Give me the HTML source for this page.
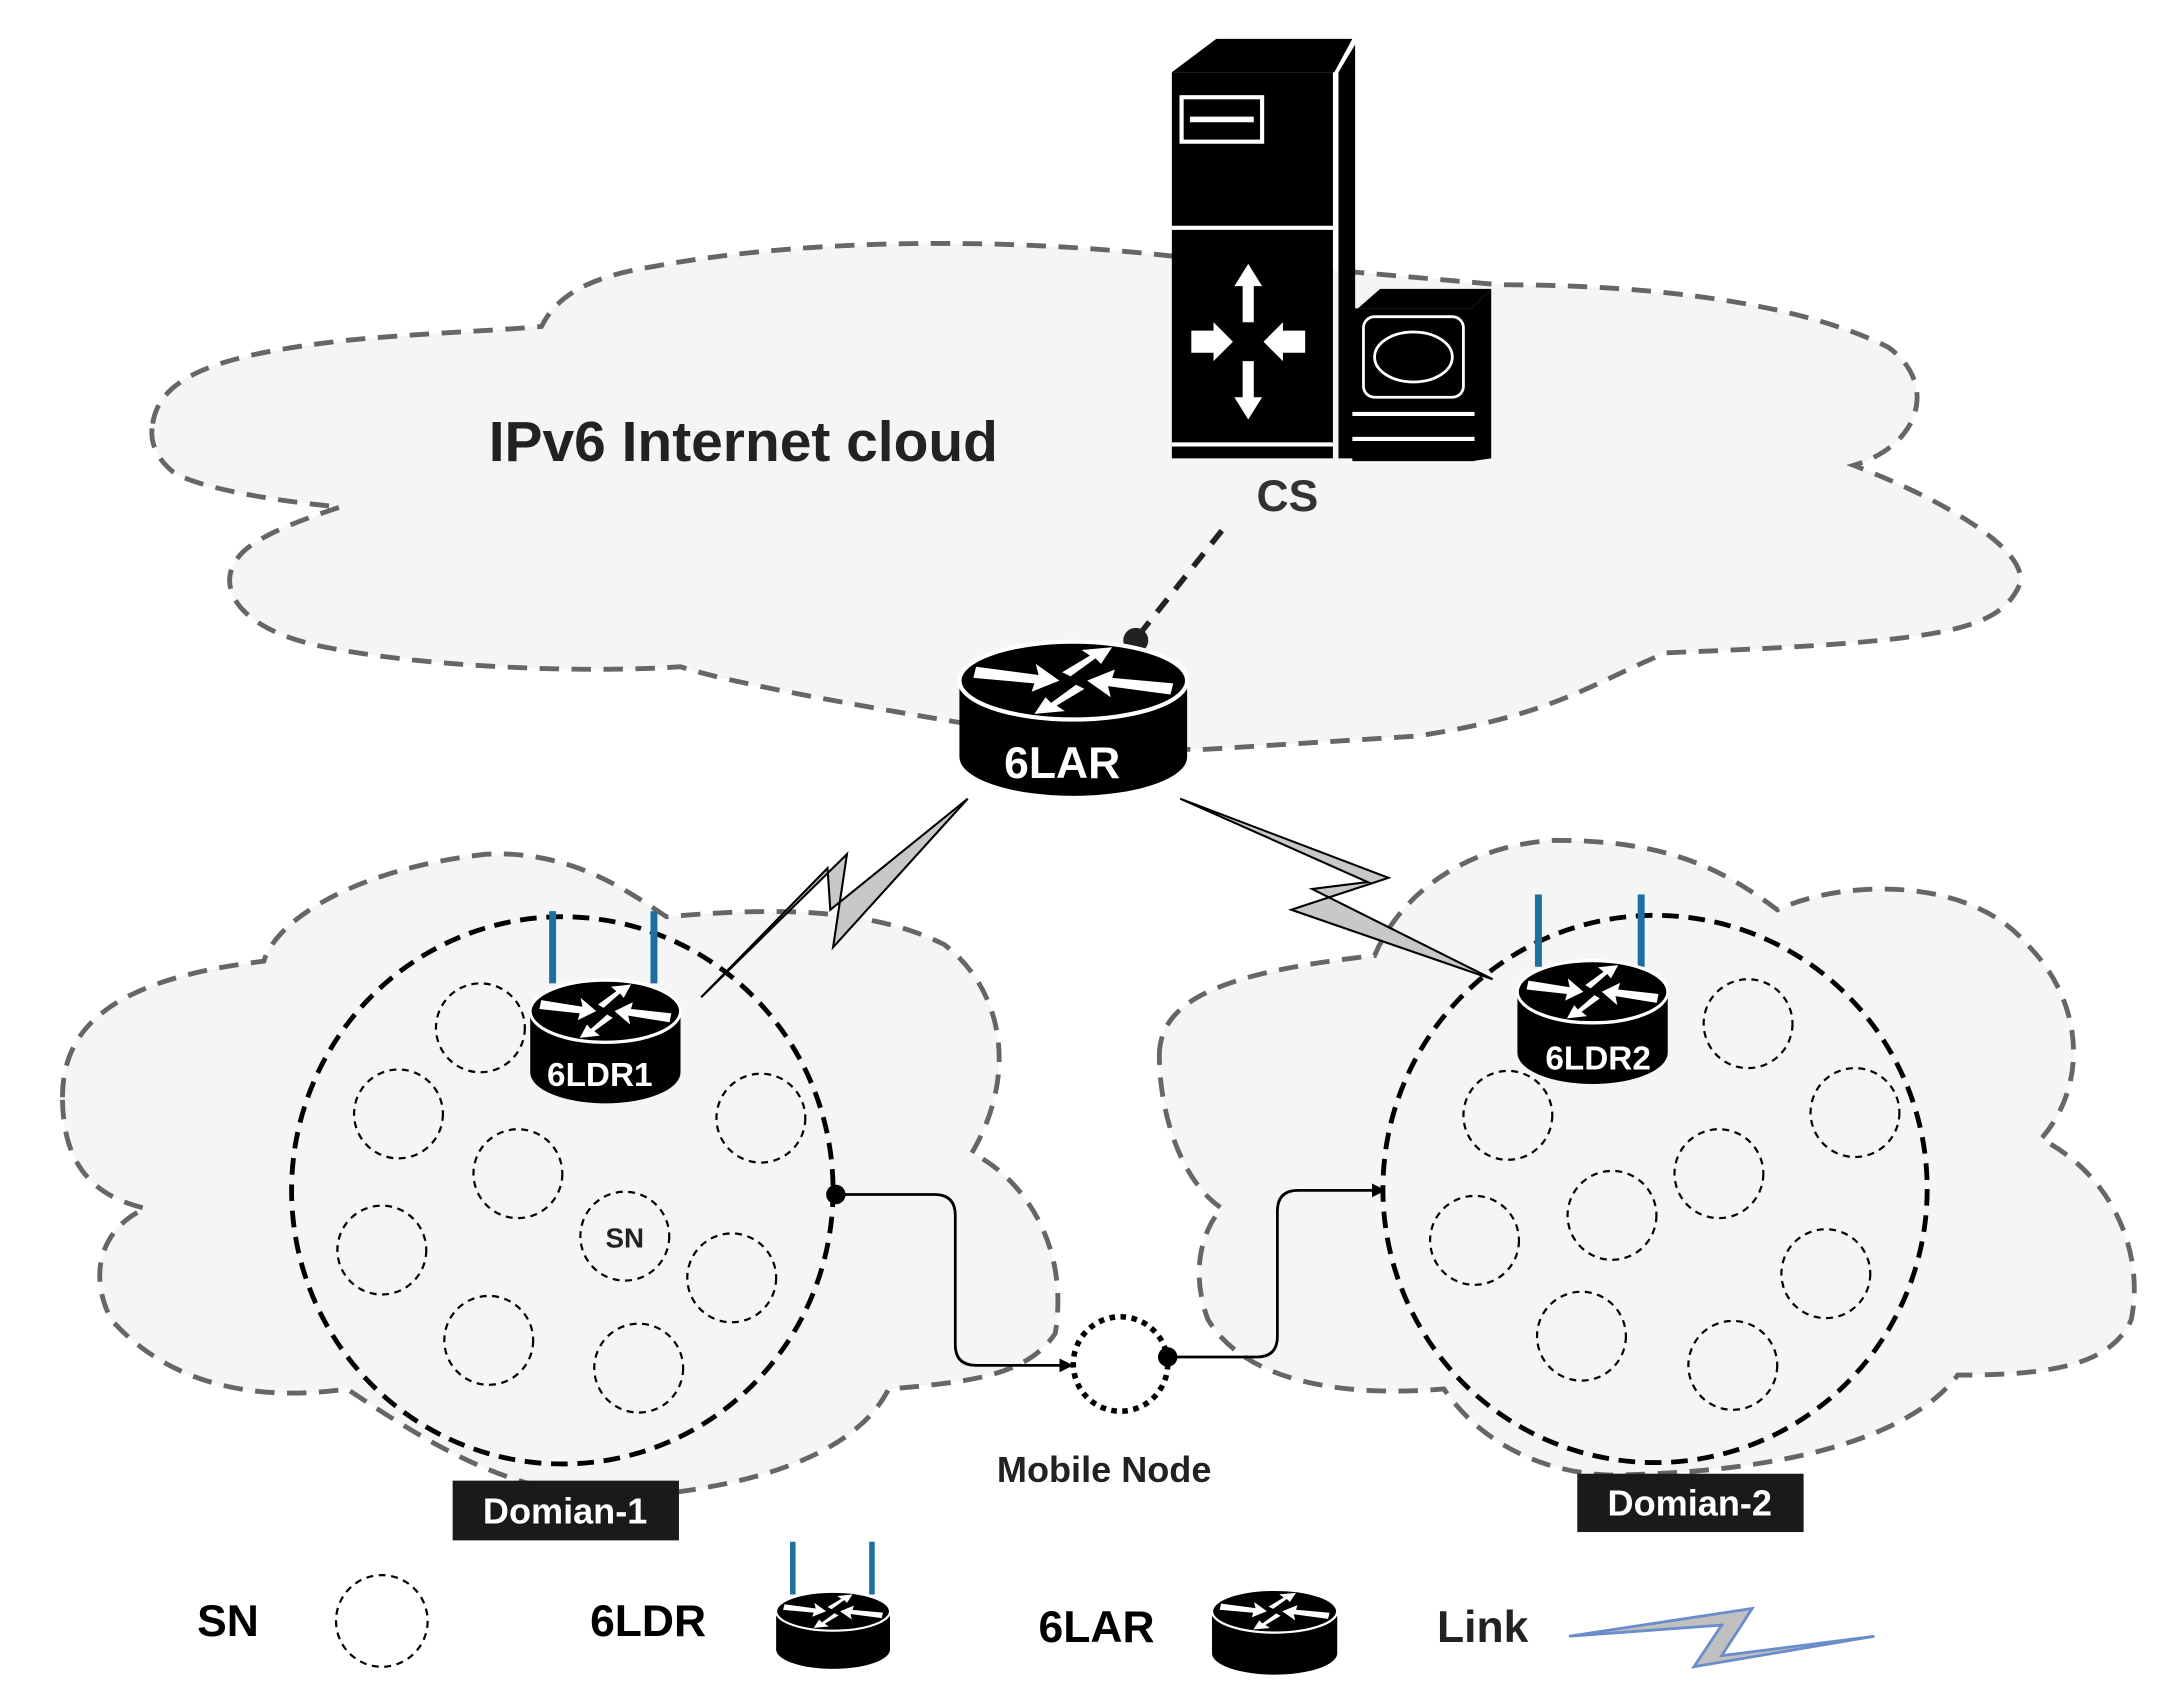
<!DOCTYPE html>
<html><head><meta charset="utf-8"><style>
html,body{margin:0;padding:0;background:#fff}
svg{display:block}
text{font-family:"Liberation Sans",sans-serif;font-weight:bold}
</style></head><body>
<svg width="2166" height="1689" viewBox="0 0 1560 1216" preserveAspectRatio="none" xmlns="http://www.w3.org/2000/svg">
<defs>
<g id="rt">
<rect x="-82" y="0" width="164" height="55" fill="#000"/>
<ellipse cx="0" cy="55" rx="82" ry="28" fill="#000"/>
<ellipse cx="0" cy="0" rx="82" ry="28" fill="#000" stroke="#fff" stroke-width="3"/>
<polygon points="-70,-10 -25,-4 -27,-12 -10,0 -30,8 -28,2 -72,-2" fill="#fff"/>
<polygon points="70,10 25,4 27,12 10,0 30,-8 28,-2 72,2" fill="#fff"/>
<polygon points="-8,-6 12,-18 6,-22 28,-24 20,-12 16,-16 -2,-3" fill="#fff"/>
<polygon points="8,6 -12,18 -6,22 -28,24 -20,12 -16,16 2,3" fill="#fff"/>
</g>
<marker id="ah" markerWidth="10" markerHeight="10" refX="9" refY="5" orient="auto" markerUnits="userSpaceOnUse"><path d="M0,0 L10,5 L0,10 Z" fill="#000"/></marker>
</defs>
<path d="M110,305 C115,270 160,255 250,245 C300,240 360,238 390,235 C400,215 420,200 470,192 C560,175 700,168 850,185 L1080,205 C1200,205 1300,220 1360,250 C1395,275 1385,320 1335,335 C1400,360 1460,395 1455,420 C1440,455 1400,462 1200,470 C1150,490 1120,515 1020,530 L860,540 L690,520 C600,505 520,490 490,480 C420,485 300,480 230,465 C160,450 150,410 185,390 C200,380 230,370 245,365 C190,360 140,350 125,340 C110,328 108,315 110,305 Z" fill="#f4f6f5" stroke="#666" stroke-width="3.5" stroke-dasharray="14,9"/>
<path d="M45,790 C45,740 80,705 190,692 C200,660 260,625 350,615 C410,612 450,640 480,660 C540,655 620,650 680,680 C720,710 735,770 700,830 C740,850 770,900 760,960 C740,990 700,995 640,1000 C620,1040 560,1070 450,1078 C370,1078 310,1040 250,1000 C180,1010 120,995 80,950 C60,910 80,880 105,870 C60,860 45,830 45,790 Z" fill="#f4f6f5" stroke="#666" stroke-width="3.5" stroke-dasharray="14,9"/>
<path d="M835,760 C835,720 880,700 990,688 C1010,640 1060,608 1120,605 C1200,605 1240,625 1280,655 C1330,632 1420,632 1460,680 C1500,720 1505,780 1470,820 C1520,845 1545,900 1535,950 C1520,985 1470,990 1410,990 C1380,1030 1300,1060 1160,1062 C1100,1060 1060,1030 1040,1000 C980,1005 900,1000 870,950 C855,910 870,880 880,870 C850,850 835,800 835,760 Z" fill="#f4f6f5" stroke="#666" stroke-width="3.5" stroke-dasharray="14,9"/>
<ellipse cx="405" cy="857" rx="195" ry="197" fill="none" stroke="#000" stroke-width="3.5" stroke-dasharray="12,7"/>
<ellipse cx="1192" cy="856" rx="196" ry="197" fill="none" stroke="#000" stroke-width="3.5" stroke-dasharray="12,7"/>
<g fill="none" stroke="#000" stroke-width="1.6" stroke-dasharray="5,4">
<circle cx="346" cy="740" r="32"/><circle cx="287" cy="802" r="32"/><circle cx="548" cy="805" r="32"/>
<circle cx="373" cy="845" r="32"/><circle cx="275" cy="900" r="32"/><circle cx="450" cy="890" r="32"/>
<circle cx="527" cy="920" r="32"/><circle cx="352" cy="965" r="32"/><circle cx="460" cy="985" r="32"/>
<circle cx="1259" cy="737" r="32"/><circle cx="1086" cy="803" r="32"/><circle cx="1336" cy="801" r="32"/>
<circle cx="1238" cy="845" r="32"/><circle cx="1161" cy="875" r="32"/><circle cx="1062" cy="893" r="32"/>
<circle cx="1315" cy="917" r="32"/><circle cx="1139" cy="962" r="32"/><circle cx="1248" cy="983" r="32"/>
<circle cx="275" cy="1167" r="33"/>
</g>
<text x="450" y="898" font-size="20" text-anchor="middle" fill="#222">SN</text>
<circle cx="807" cy="982" r="34" fill="none" stroke="#000" stroke-width="4" stroke-dasharray="4,4"/>
<path d="M602,860 H673 Q688,860 688,875 V968 Q688,983 703,983 H772" fill="none" stroke="#000" stroke-width="2" marker-end="url(#ah)"/>
<circle cx="602" cy="860" r="7" fill="#000"/>
<path d="M841,977 H905 Q920,977 920,962 V872 Q920,857 935,857 H997" fill="none" stroke="#000" stroke-width="2" marker-end="url(#ah)"/>
<circle cx="841" cy="977" r="7" fill="#000"/>
<polygon points="697,575 600,682 610,615 505,718 596,625 598,655" fill="#c8c8c8" stroke="#000" stroke-width="1.5"/>
<polygon points="850,575 1000,632 930,655 1075,705 945,640 985,635" fill="#c8c8c8" stroke="#000" stroke-width="1.5"/>
<g transform="translate(-4,0)">
<polygon points="848,52 880,28 978,28 965,52" fill="#000"/>
<polygon points="968,52 980,32 980,330 968,330" fill="#000"/>
<rect x="848" y="52" width="116" height="278" fill="#000"/>
<line x1="848" y1="164" x2="964" y2="164" stroke="#fff" stroke-width="3"/>
<line x1="848" y1="320" x2="964" y2="320" stroke="#fff" stroke-width="3"/>
<rect x="855" y="70" width="58" height="32" fill="none" stroke="#fff" stroke-width="3"/>
<line x1="861" y1="86" x2="907" y2="86" stroke="#fff" stroke-width="4"/>
<polygon points="903,190 893,206 899,206 899,232 907,232 907,206 913,206" fill="#fff"/>
<polygon points="903,302 893,286 899,286 899,260 907,260 907,286 913,286" fill="#fff"/>
<polygon points="862,238 878,238 878,232 892,246 878,260 878,254 862,254" fill="#fff"/>
<polygon points="944,238 928,238 928,232 914,246 928,260 928,254 944,254" fill="#fff"/>
<polygon points="982,222 998,208 1078,208 1064,222" fill="#000"/>
<rect x="978" y="222" width="88" height="110" fill="#000"/>
<polygon points="1064,222 1078,208 1078,330 1064,332" fill="#000"/>
<rect x="986" y="228" width="72" height="58" rx="8" fill="none" stroke="#fff" stroke-width="2"/>
<ellipse cx="1022" cy="257" rx="28" ry="18" fill="none" stroke="#fff" stroke-width="2"/>
<line x1="978" y1="298" x2="1066" y2="298" stroke="#fff" stroke-width="3"/>
<line x1="978" y1="316" x2="1066" y2="316" stroke="#fff" stroke-width="3"/>
</g>
<line x1="880" y1="382" x2="818" y2="460" stroke="#222" stroke-width="4" stroke-dasharray="12,9"/>
<circle cx="818" cy="461" r="9" fill="#222"/>
<use href="#rt" transform="translate(773,490)"/>
<text x="765" y="560" font-size="32" fill="#fff" text-anchor="middle">6LAR</text>
<line x1="398" y1="656" x2="398" y2="708" stroke="#1e6fa0" stroke-width="5"/>
<line x1="471" y1="656" x2="471" y2="708" stroke="#1e6fa0" stroke-width="5"/>
<use href="#rt" transform="translate(436,728) scale(0.66,0.8)"/>
<text x="432" y="782" font-size="24" fill="#fff" text-anchor="middle">6LDR1</text>
<line x1="1108" y1="644" x2="1108" y2="696" stroke="#1e6fa0" stroke-width="5"/>
<line x1="1182" y1="644" x2="1182" y2="696" stroke="#1e6fa0" stroke-width="5"/>
<use href="#rt" transform="translate(1147,714) scale(0.66,0.8)"/>
<text x="1151" y="770" font-size="24" fill="#fff" text-anchor="middle">6LDR2</text>
<text x="352" y="332" font-size="41" fill="#222">IPv6 Internet cloud</text>
<text x="905" y="368" font-size="32" fill="#333">CS</text>
<text x="718" y="1067" font-size="26" fill="#222">Mobile Node</text>
<rect x="326" y="1066" width="163" height="43" fill="#1a1a1a"/>
<text x="407" y="1097" font-size="26" fill="#fff" text-anchor="middle">Domian-1</text>
<rect x="1136" y="1061" width="163" height="42" fill="#1a1a1a"/>
<text x="1217" y="1091" font-size="26" fill="#fff" text-anchor="middle">Domian-2</text>
<text x="142" y="1178" font-size="32" fill="#000">SN</text>
<text x="425" y="1178" font-size="32" fill="#000">6LDR</text>
<line x1="571" y1="1110" x2="571" y2="1148" stroke="#1e6fa0" stroke-width="4"/>
<line x1="628" y1="1110" x2="628" y2="1148" stroke="#1e6fa0" stroke-width="4"/>
<use href="#rt" transform="translate(600,1160) scale(0.5)"/>
<text x="748" y="1182" font-size="32" fill="#000">6LAR</text>
<use href="#rt" transform="translate(918,1160) scale(0.55)"/>
<text x="1035" y="1182" font-size="32" fill="#222">Link</text>
<polygon points="1130,1178 1262,1158 1240,1192 1350,1178 1220,1200 1240,1170" fill="#c0c0c0" stroke="#6a8cc8" stroke-width="2"/>
</svg>
</body></html>
